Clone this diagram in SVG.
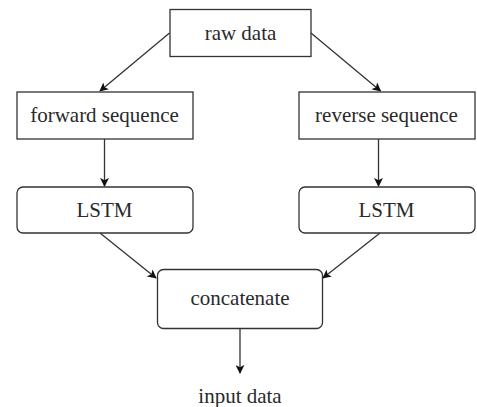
<svg xmlns="http://www.w3.org/2000/svg" width="477" height="407" viewBox="0 0 477 407">
<defs>
<style>
.box{fill:#fff;stroke:#333;stroke-width:1.3}
.lbl{font-size:21px;fill:#2a2a2a;text-anchor:middle}
.edge{stroke:#333;stroke-width:1.3;fill:none;marker-end:url(#ah)}
</style>
<marker id="ah" viewBox="0 0 10 10" refX="9" refY="5" markerWidth="9" markerHeight="9" markerUnits="userSpaceOnUse" orient="auto">
<path d="M0,0 L10,5 L0,10 L2.5,5 Z" fill="#111"/>
</marker>
</defs>
<rect width="477" height="407" fill="#fff"/>
<g id="connectors">
<line class="edge" x1="169.5" y1="33" x2="100" y2="91"/>
<line class="edge" x1="311" y1="33" x2="380.5" y2="91"/>
<line class="edge" x1="104.5" y1="139" x2="104.5" y2="186"/>
<line class="edge" x1="378.5" y1="139" x2="378.5" y2="186"/>
<line class="edge" x1="100" y1="233" x2="156" y2="278"/>
<line class="edge" x1="380" y1="233" x2="323" y2="278"/>
<line class="edge" x1="240" y1="329" x2="240" y2="373"/>
</g>
<g font-family="'Liberation Serif', 'Times New Roman', serif">
<g id="raw-data">
<rect class="box" x="170" y="9.5" width="141" height="47"/>
<text class="lbl" x="240.5" y="39.5">raw data</text>
</g>
<g id="forward-sequence">
<rect class="box" x="17" y="92" width="176" height="47"/>
<text class="lbl" x="104.5" y="122">forward sequence</text>
</g>
<g id="reverse-sequence">
<rect class="box" x="299" y="92" width="176" height="47"/>
<text class="lbl" x="386.5" y="122">reverse sequence</text>
</g>
<g id="lstm-left">
<rect class="box" x="17" y="187" width="176" height="46" rx="6"/>
<text class="lbl" x="104.5" y="217">LSTM</text>
</g>
<g id="lstm-right">
<rect class="box" x="299" y="187" width="176" height="46" rx="6"/>
<text class="lbl" x="386.5" y="217">LSTM</text>
</g>
<g id="concatenate">
<rect class="box" x="157.5" y="269.5" width="165" height="59" rx="6"/>
<text class="lbl" x="240" y="305">concatenate</text>
</g>
<g id="input-data">
<text class="lbl" x="240" y="403">input data</text>
</g>
</g>
</svg>
